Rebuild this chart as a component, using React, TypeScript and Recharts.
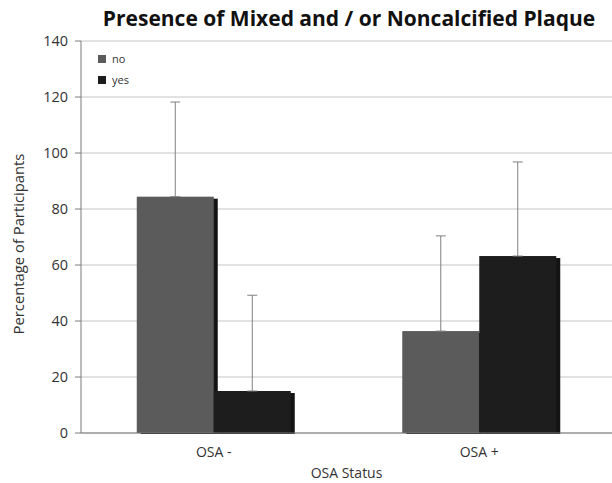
import React from "react";
import {
  BarChart,
  Bar,
  XAxis,
  YAxis,
  CartesianGrid,
  Legend,
  ErrorBar,
  Label,
} from "recharts";

const groups = ["OSA -", "OSA +"];
const noValues = [84.4, 36.4];
const yesValues = [15.0, 63.2];
const noErr = [33.8, 34.0];
const yesErr = [34.2, 33.6];
const yTicks = [0, 20, 40, 60, 80, 100, 120, 140];

const data = groups.map((g, i) => ({
  group: g,
  no: noValues[i],
  yes: yesValues[i],
  noErr: [0, noErr[i]],
  yesErr: [0, yesErr[i]],
}));

const FONT = "'Open Sans', sans-serif";

// bar with the little offset drop shadow like the excel export
const ShadowBar = (props: any) => {
  const { x, y, width, height, fill } = props;
  if (!height || height <= 0) return null;
  return (
    <g>
      <rect x={x + 4} y={y + 2} width={width} height={height - 1} fill="#141414" />
      <rect x={x} y={y} width={width} height={height} fill={fill} />
    </g>
  );
};

const LegendBox = (props: any) => {
  const { payload } = props;
  return (
    <div style={{ fontFamily: FONT, fontSize: 11, color: "#333", lineHeight: "21px" }}>
      {(payload || []).map((p: any) => (
        <div key={p.value} style={{ display: "flex", alignItems: "center", height: 21 }}>
          <span style={{ width: 8, height: 8, background: p.color, display: "inline-block", marginRight: 6 }} />
          {p.value}
        </div>
      ))}
    </div>
  );
};

export default function App() {
  return (
    <div style={{ position: "absolute", left: 0, top: 0, width: 612, height: 483, background: "#fff" }}>
      <div
        style={{
          position: "absolute",
          top: 4,
          left: 0,
          width: 698,
          textAlign: "center",
          fontFamily: FONT,
          fontWeight: 700,
          fontSize: 21,
          color: "#111",
        }}
      >
        Presence of Mixed and / or Noncalcified Plaque
      </div>
      <BarChart
        width={612}
        height={483}
        data={data}
        margin={{ top: 41, right: 0, left: 0, bottom: 0 }}
        barCategoryGap="21%"
        barGap={0}
      >
        <CartesianGrid vertical={false} stroke="#c4c4c4" />
        <XAxis
          dataKey="group"
          height={50}
          tickLine={false}
          tickSize={6}
          tickMargin={8}
          axisLine={{ stroke: "#7a7a7a" }}
          tick={{ fontFamily: FONT, fontSize: 14, fill: "#333" }}
        >
          <Label
            value="OSA Status"
            position="insideBottom"
            offset={5}
            style={{ fontFamily: FONT, fontSize: 14, fill: "#333" }}
          />
        </XAxis>
        <YAxis
          width={81}
          domain={[0, 140]}
          ticks={yTicks}
          interval={0}
          tickSize={6}
          tickMargin={7}
          axisLine={{ stroke: "#7a7a7a" }}
          tickLine={{ stroke: "#7a7a7a" }}
          tick={{ fontFamily: FONT, fontSize: 14.5, fill: "#333" }}
        >
          <Label
            value="Percentage of Participants"
            angle={-90}
            position="insideLeft"
            offset={19}
            dy={7}
            style={{ fontFamily: FONT, fontSize: 14.8, fill: "#333", textAnchor: "middle" }}
          />
        </YAxis>
        <Legend
          layout="vertical"
          verticalAlign="middle"
          align="center"
          content={<LegendBox />}
          wrapperStyle={{ top: 48, left: 98, width: 60, bottom: "auto", right: "auto", transform: "none" }}
        />
        <Bar dataKey="no" name="no" fill="#5b5b5b" shape={<ShadowBar />} isAnimationActive={false}>
          <ErrorBar dataKey="noErr" width={5} stroke="#808080" strokeWidth={1} direction="y" />
        </Bar>
        <Bar dataKey="yes" name="yes" fill="#1d1d1d" shape={<ShadowBar />} isAnimationActive={false}>
          <ErrorBar dataKey="yesErr" width={5} stroke="#808080" strokeWidth={1} direction="y" />
        </Bar>
      </BarChart>
    </div>
  );
}
